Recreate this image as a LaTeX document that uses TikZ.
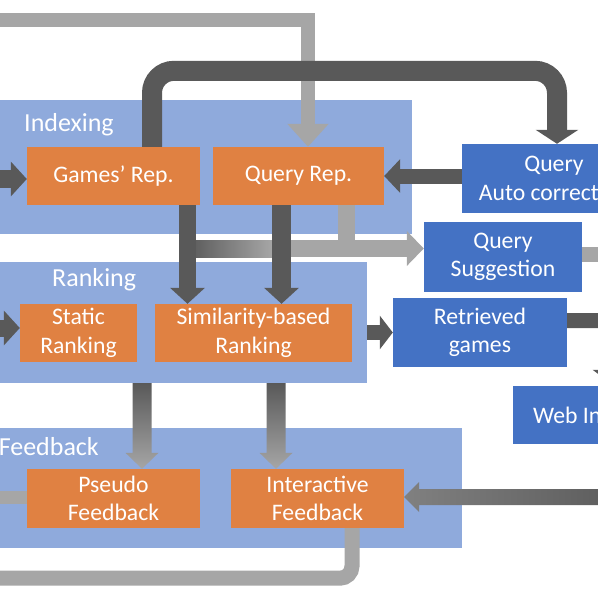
\documentclass[tikz,border=0pt]{standalone}
\usepackage{fontspec}
\setmainfont{Carlito}
\usetikzlibrary{arrows.meta,calc}
\definecolor{panelblue}{HTML}{8FAADC}
\definecolor{boxorange}{HTML}{E08142}
\definecolor{boxblue}{HTML}{4472C4}
\definecolor{arrdark}{HTML}{595959}
\definecolor{arrlight}{HTML}{A6A6A6}
\definecolor{arrmid}{HTML}{808080}
\newcommand{\boxfont}{\fontsize{23.7pt}{28.4pt}\selectfont}
\newcommand{\titlefont}{\fontsize{26pt}{30pt}\selectfont}
\tikzstyle{panel} = [fill=panelblue, inner sep=0pt]
\tikzstyle{paneltitle} = [text=white, inner sep=0pt, font=\titlefont]
\tikzstyle{orangebox} = [fill=boxorange, text=white, align=center, inner sep=0pt, font=\boxfont]
\tikzstyle{bluebox} = [fill=boxblue, text=white, align=center, inner sep=0pt, font=\boxfont]
\tikzstyle{darkarrow} = [draw=arrdark, line width=17pt, -{Triangle[length=16pt,width=34pt]}]
\tikzstyle{bigarrow} = [draw=arrdark, line width=20pt, rounded corners=22pt, -{Triangle[length=14pt,width=42pt]}]
\tikzstyle{lightarrow} = [draw=arrlight, line width=17pt, -{Triangle[length=17pt,width=34pt]}]
\tikzstyle{lightline} = [draw=arrlight, line width=14pt]
% shaded block arrows, pointing down / pointing left
\tikzstyle{vgrad} = [draw=none, top color=arrdark, bottom color=arrlight,
  to path={let \p1=(\tikztostart), \p2=(\tikztotarget) in
    (\x1-9.5pt,\y1) -- (\x1-9.5pt,\y2+16pt) -- (\x1-16.5pt,\y2+16pt) -- (\x1,\y2)
    -- (\x1+16.5pt,\y2+16pt) -- (\x1+9.5pt,\y2+16pt) -- (\x1+9.5pt,\y1) -- cycle}]
\tikzstyle{hgrad} = [draw=none, left color=arrmid, right color=arrdark,
  to path={let \p1=(\tikztostart), \p2=(\tikztotarget) in
    (\x1,\y1+8pt) -- (\x2+15pt,\y1+8pt) -- (\x2+15pt,\y1+15pt) -- (\x2,\y1)
    -- (\x2+15pt,\y1-15pt) -- (\x2+15pt,\y1-8pt) -- (\x1,\y1-8pt) -- cycle}]

\begin{document}
\begin{tikzpicture}[x=1pt,y=-1pt]
		\useasboundingbox (0,0) rectangle (598,598);
		\clip (0,0) rectangle (598,598);
		% panels
		\node[panel, minimum width=462pt, minimum height=134pt] (idx) at (181,167) {};
		\node[panel, minimum width=417pt, minimum height=121pt] (rnk) at (158.5,322.5) {};
		\node[panel, minimum width=512pt, minimum height=120pt] (fbk) at (206,488) {};
		\node[paneltitle, anchor=west] (idxt) at (24,125) {Indexing};
		\node[paneltitle, anchor=west] (rnkt) at (52,280) {Ranking};
		\node[paneltitle, anchor=east] (fbkt) at (99,447) {Feedback};
		% boxes
		\node[orangebox, minimum width=173pt, minimum height=58pt] (gam) at (113.5,176) {Games’ Rep.};
		\node[orangebox, minimum width=171pt, minimum height=58pt] (qry) at (298.5,176) {Query Rep.};
		\node[orangebox, minimum width=117pt, minimum height=58pt] (sta) at (78.5,333) {Static\\Ranking};
		\node[orangebox, minimum width=197pt, minimum height=58pt] (sim) at (253.5,333) {Similarity-based\\Ranking};
		\node[orangebox, minimum width=173pt, minimum height=59pt] (pse) at (113.5,498.5) {Pseudo\\Feedback};
		\node[orangebox, minimum width=173pt, minimum height=59pt] (int) at (317.5,498.5) {Interactive\\Feedback};
		\node[bluebox, minimum width=184pt, minimum height=69pt] (acr) at (554,178.5) {Query\\Auto correction};
		\node[bluebox, minimum width=158pt, minimum height=70pt] (sug) at (503,257) {Query\\Suggestion};
		\node[bluebox, minimum width=174pt, minimum height=69pt] (ret) at (480,332.5) {Retrieved\\games};
		\node[bluebox, minimum width=176pt, minimum height=58pt] (web) at (601,415) {Web Interface};
		\coordinate (topin) at (-20,20);
		\coordinate (split) at (187.5,248.5);
		\coordinate (fbin) at (640,497);
		% light connectors
		\draw[lightline, -{Triangle[length=23pt,width=40pt]}] (topin) -| ([xshift=9.5pt]qry.north);
		\draw[lightline, line width=17pt] ([xshift=47.5pt]qry.south) -- ([xshift=47.5pt]qry.south |- split);
		\draw[lightarrow] (split) -- (split -| sug.west);
		\shade[left color=arrdark, right color=arrlight] ([yshift=8.5pt]split) rectangle ([xshift=-26.5pt,yshift=-8.5pt]qry.south |- split);
		\draw[lightline, line width=15pt] ([yshift=3pt]sug.east) -- ++(40,0);
		\draw[lightline, line width=13pt] ([yshift=1.5pt]pse.west) -- ++(-40,0);
		\draw[lightline, line width=15pt, rounded corners=12pt] ([xshift=34.5pt]int.south) -- ++(0,50) -- ++(-400,0);
		% dark connectors
		\draw[darkarrow, line width=18pt] ([xshift=-40pt,yshift=-3pt]gam.west) -- ([yshift=-3pt]gam.west);
		\draw[darkarrow] ([xshift=-40pt,yshift=5pt]sta.west) -- ([yshift=5pt]sta.west);
		\draw[darkarrow, line width=15pt, -{Triangle[length=16pt,width=33pt]}] ([yshift=2.5pt]acr.west) -- ([yshift=2.5pt]acr.west -| qry.east);
		\draw[bigarrow] ([xshift=38.5pt]gam.north) -- ++(0,-76) -| ([xshift=3pt]acr.north);
		\draw[darkarrow] ([xshift=74pt]gam.south) -- ([xshift=74pt]gam.south |- sim.north);
		\draw[darkarrow, line width=19pt] ([xshift=-17pt]qry.south) -- ([xshift=-17pt]qry.south |- sim.north);
		\draw[darkarrow, line width=15pt, -{Triangle[length=13pt,width=33pt]}] (rnk.east |- ret.west) -- (ret.west);
		\draw[darkarrow, line width=15pt, rounded corners=12pt, -{Triangle[length=16pt,width=42pt]}] ([yshift=12pt]ret.east) -| ([xshift=13pt]web.north);
		% shaded connectors
		\path[vgrad] ([xshift=28.5pt]pse.north |- rnk.south) to ([xshift=28.5pt]pse.north);
		\path[vgrad] ([xshift=-41.5pt]int.north |- rnk.south) to ([xshift=-41.5pt]int.north);
		\path[hgrad] (fbin) to (fbin -| int.east);
		\end{tikzpicture}
\end{document}
